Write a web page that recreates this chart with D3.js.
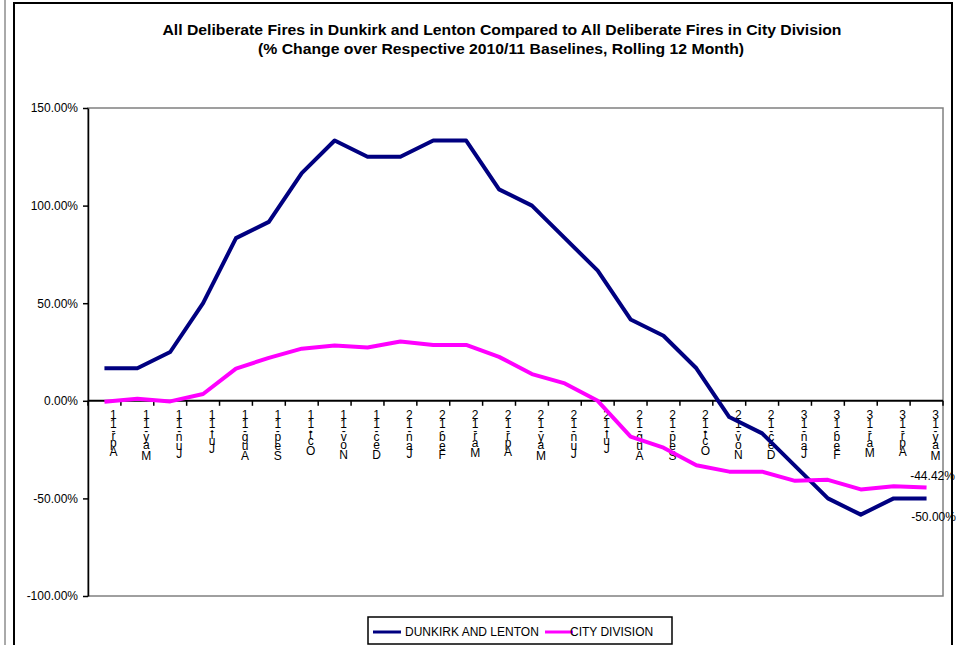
<!DOCTYPE html>
<html>
<head>
    <meta charset="utf-8">
    <script src="https://d3js.org/d3.v7.min.js"></script>
    <style>
        body {
            margin: 0;
            background: #fff;
            font-family: Arial, "Liberation Sans", sans-serif;
        }

        .axis text {
            font-size: 12px;
            font-family: Arial, "Liberation Sans", sans-serif;
            fill: #000;
        }

        .axis .domain {
            stroke: #000;
        }
    </style>
</head>
<body>
    <svg width="956" height="645"></svg>
    <script>
        // months along the x axis
        const months = ["Apr-11", "May-11", "Jun-11", "Jul-11", "Aug-11", "Sep-11", "Oct-11", "Nov-11", "Dec-11",
            "Jan-12", "Feb-12", "Mar-12", "Apr-12", "May-12", "Jun-12", "Jul-12", "Aug-12", "Sep-12",
            "Oct-12", "Nov-12", "Dec-12", "Jan-13", "Feb-13", "Mar-13", "Apr-13", "May-13"];

        // % change over 2010/11 baseline
        const dunkirkLenton = [16.67, 16.67, 25, 50, 83.33, 91.67, 116.67, 133.33, 125, 125, 133.33, 133.33,
            108.33, 100, 83.33, 66.67, 41.67, 33.33, 16.67, -8.33, -16.67, -33.33, -50, -58.33, -50, -50];
        const cityDivision = [-0.5, 1, -0.3, 3.5, 16.5, 22, 26.7, 28.3, 27.3, 30.4, 28.6, 28.6,
            22.5, 13.7, 8.9, 0, -18.3, -24, -33, -36.3, -36.3, -41, -40.5, -45.4, -43.8, -44.42];

        const yTicks = [-100, -50, 0, 50, 100, 150];
        const seriesNames = ["DUNKIRK AND LENTON", "CITY DIVISION"];
        const seriesColors = ["#000080", "#ff00ff"];

        const svg = d3.select("svg");

        // outer frame
        svg.append("line")
            .attr("x1", 5).attr("x2", 5).attr("y1", 0).attr("y2", 645)
            .attr("stroke", "#555").attr("stroke-width", 1);
        svg.append("rect")
            .attr("x", 14).attr("y", 3).attr("width", 938).attr("height", 660)
            .attr("fill", "none").attr("stroke", "#000").attr("stroke-width", 2);

        // title
        svg.append("text")
            .attr("x", 502).attr("y", 35)
            .attr("text-anchor", "middle")
            .attr("textLength", 679).attr("lengthAdjust", "spacingAndGlyphs")
            .style("font-size", "14.5px").style("font-weight", "bold")
            .text("All Deliberate Fires in Dunkirk and Lenton Compared to All Deliberate Fires in City Division");
        svg.append("text")
            .attr("x", 501).attr("y", 54)
            .attr("text-anchor", "middle")
            .attr("textLength", 486).attr("lengthAdjust", "spacingAndGlyphs")
            .style("font-size", "14.5px").style("font-weight", "bold")
            .text("(% Change over Respective 2010/11 Baselines, Rolling 12 Month)");

        const plot = { left: 88, right: 943, top: 108, bottom: 596 };

        const x = d3.scaleBand()
            .domain(months)
            .range([plot.left, plot.right]);

        const y = d3.scaleLinear()
            .domain([-100, 150])
            .range([plot.bottom, plot.top]);

        // plot area border (grey)
        svg.append("rect")
            .attr("x", plot.left).attr("y", plot.top)
            .attr("width", plot.right - plot.left).attr("height", plot.bottom - plot.top)
            .attr("fill", "none").attr("stroke", "#808080").attr("stroke-width", 1.5);

        // y axis
        svg.append("g")
            .attr("class", "axis")
            .attr("transform", `translate(${plot.left},0)`)
            .call(d3.axisLeft(y).tickValues(yTicks).tickFormat(d => d.toFixed(2) + "%").tickSize(5).tickSizeOuter(0).tickPadding(5))
            .call(g => g.select(".domain").attr("stroke-width", 1.5))
            .call(g => g.selectAll(".tick line").attr("stroke-width", 1.5));

        // zero line + ticks between categories
        svg.append("line")
            .attr("x1", plot.left).attr("x2", plot.right)
            .attr("y1", y(0)).attr("y2", y(0))
            .attr("stroke", "#000").attr("stroke-width", 2);

        const edges = months.map(m => x(m)).concat([plot.right]);
        svg.append("g")
            .selectAll("line")
            .data(edges)
            .join("line")
            .attr("x1", d => d).attr("x2", d => d)
            .attr("y1", y(0)).attr("y2", y(0) + 5)
            .attr("stroke", "#000").attr("stroke-width", 1.5);

        // x labels: characters stacked upright, reading bottom to top (one text per label)
        const measure = svg.append("text").style("font-size", "12px").attr("visibility", "hidden");
        function charWidth(c) {
            measure.text(c);
            return measure.node().getComputedTextLength();
        }
        const labelG = svg.append("g").style("font-size", "12px");
        months.forEach(m => {
            const chars = m.split("").reverse();
            const cx = x(m) + x.bandwidth() / 2 + 9;
            const t = labelG.append("text").attr("text-anchor", "middle");
            let cum = 0;
            chars.forEach(c => {
                const w = charWidth(c);
                const cy = 410.7 + (cum + w / 2) * 1.29;
                cum += w;
                t.append("tspan")
                    .attr("x", cx)
                    .attr("y", cy + 4)
                    .text(c);
            });
        });
        measure.remove();

        // lines
        const line = d3.line()
            .x((d, i) => x(months[i]) + x.bandwidth() / 2)
            .y(d => y(d));

        [dunkirkLenton, cityDivision].forEach((s, i) => {
            svg.append("path")
                .datum(s)
                .attr("fill", "none")
                .attr("stroke", seriesColors[i])
                .attr("stroke-width", 4)
                .attr("stroke-linejoin", "round")
                .attr("d", line);
        });

        // end labels
        const last = months.length - 1;
        const lastX = x(months[last]) + x.bandwidth() / 2;
        svg.append("text")
            .attr("x", lastX + 6).attr("y", y(cityDivision[last]) - 11.6 + 4)
            .attr("text-anchor", "middle")
            .style("font-size", "12px")
            .text(cityDivision[last].toFixed(2) + "%");
        svg.append("text")
            .attr("x", lastX + 7).attr("y", y(dunkirkLenton[last]) + 18.4 + 4)
            .attr("text-anchor", "middle")
            .style("font-size", "12px")
            .text(dunkirkLenton[last].toFixed(2) + "%");

        // legend
        const legend = svg.append("g");
        legend.append("rect")
            .attr("x", 368).attr("y", 617).attr("width", 304).attr("height", 27)
            .attr("fill", "#fff").attr("stroke", "#000").attr("stroke-width", 1.5);
        const legendItems = [{ x: 373, tx: 405 }, { x: 545, tx: 570 }];
        legendItems.forEach((d, i) => {
            legend.append("line")
                .attr("x1", d.x).attr("x2", d.x + 28)
                .attr("y1", 632).attr("y2", 632)
                .attr("stroke", seriesColors[i]).attr("stroke-width", 3);
            legend.append("text")
                .attr("x", d.tx).attr("y", 636)
                .style("font-size", "12px")
                .text(seriesNames[i]);
        });
    </script>
</body>
</html>
